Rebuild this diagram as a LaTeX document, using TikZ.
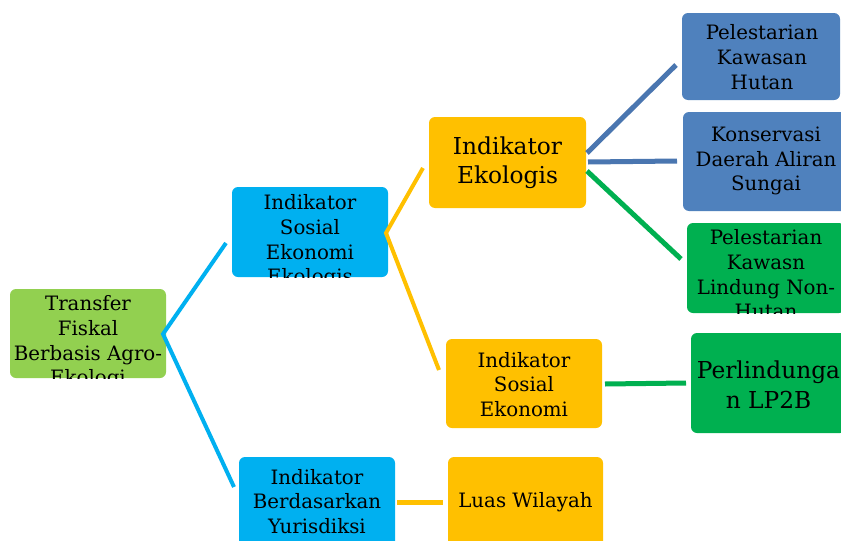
\documentclass[tikz,border=0pt]{standalone}
\usepackage{fontspec}
\setmainfont{DejaVu Serif}
\usetikzlibrary{calc}
\definecolor{cLime}{HTML}{92D050}
\definecolor{cSky}{HTML}{00B0F0}
\definecolor{cGold}{HTML}{FFC000}
\definecolor{cSteel}{HTML}{4F81BD}
\definecolor{cSteelLine}{HTML}{4A76B0}
\definecolor{cGreen}{HTML}{00B050}
\tikzset{
  box/.style={rounded corners=6pt, inner sep=0pt, outer sep=0pt, anchor=north west},
  fsmall/.style={font=\fontsize{19.8}{24.7}\selectfont},
  fbig/.style={font=\fontsize{23.3}{29.5}\selectfont},
  conn/.style={line width=4pt},
  connw/.style={line width=5pt},
}
% #1 name, #2 fill, #3 x, #4 y, #5 w, #6 h, #7 text x-shift, #8 text y-shift, #9 font style, #10 text
\newcommand\mkbox[9]{\mkboxaux{#1}{#2}{#3}{#4}{#5}{#6}{#7}{#8}{#9}}
\newcommand\mkboxaux[9]{\def\mbname{#1}\def\mbfill{#2}\def\mbx{#3}\def\mby{#4}\def\mbw{#5}\def\mbh{#6}\def\mbdx{#7}\def\mbdy{#8}\def\mbfont{#9}\mkboxfinal}
\newcommand\mkboxfinal[1]{%
  \node[box, fill=\mbfill, minimum width=\mbw pt, minimum height=\mbh pt,
    path picture={\node[anchor=center, fill=none, draw=none, align=center, inner sep=0pt, text=black, \mbfont] at ([xshift=\mbdx pt, yshift=\mbdy pt]path picture bounding box.center) {#1};}]
    (\mbname) at (\mbx,\mby) {};}
\begin{document}
\begin{tikzpicture}[x=1pt,y=-1pt]
\clip (0,0) rectangle (841,541);
\fill[white] (0,0) rectangle (841,541);

\mkbox{transfer}{cLime}{10}{289}{156}{89}{0}{-9}{fsmall}{Transfer\\Fiskal\\Berbasis Agro-\\Ekologi}
\mkbox{isee}{cSky}{232}{187}{156}{90}{0}{-9.5}{fsmall}{Indikator\\Sosial\\Ekonomi\\Ekologis}
\mkbox{iby}{cSky}{239}{457}{156}{90}{0}{0.5}{fsmall}{Indikator\\Berdasarkan\\Yurisdiksi}
\mkbox{ie}{cGold}{429}{117}{157}{91}{0}{0}{fbig}{Indikator\\Ekologis}
\mkbox{ise}{cGold}{446}{339}{156}{89}{0}{-1}{fsmall}{Indikator\\Sosial\\Ekonomi}
\mkbox{luas}{cGold}{448}{457}{155}{90}{0}{0}{fsmall}{Luas Wilayah}
\mkbox{pkh}{cSteel}{682}{13}{158}{87}{1}{-0.5}{fsmall}{Pelestarian\\Kawasan\\Hutan}
\mkbox{kdas}{cSteel}{683}{112}{166}{99}{0}{0.5}{fsmall}{Konservasi\\Daerah Aliran\\Sungai}
\mkbox{plnh}{cGreen}{687}{223}{158}{90}{0}{-6.5}{fsmall}{Pelestarian\\Kawasn\\Lindung Non-\\Hutan}
\mkbox{lp2b}{cGreen}{691}{333}{155}{100}{0}{-1.5}{fbig}{Perlindunga\\n LP2B}

% connector end points
\coordinate (vA) at (163,334);
\coordinate (a1) at (226,243);
\coordinate (a2) at (234,487);
\coordinate (vB) at (386,233);
\coordinate (b1) at (423,168);
\coordinate (b2) at (439,370);
\coordinate (c0) at (587,153);
\coordinate (c1) at (676,65);
\coordinate (d0) at (588,162);
\coordinate (d1) at (677,161);
\coordinate (e0) at (587,171);
\coordinate (e1) at (681,259);
\coordinate (f0) at (605,384);
\coordinate (f1) at (686,383);
\coordinate (g0) at (397,502);
\coordinate (g1) at (443,502);

\draw[conn, cSky] (a1) -- (vA) -- (a2);
\draw[conn, cGold] (b1) -- (vB) -- (b2);
\draw[connw, cSteelLine] (c0) -- (c1);
\draw[connw, cSteelLine] (d0) -- (d1);
\draw[connw, cGreen] (e0) -- (e1);
\draw[connw, cGreen] (f0) -- (f1);
\draw[connw, cGold] (g0) -- (g1);
\end{tikzpicture}
\end{document}
